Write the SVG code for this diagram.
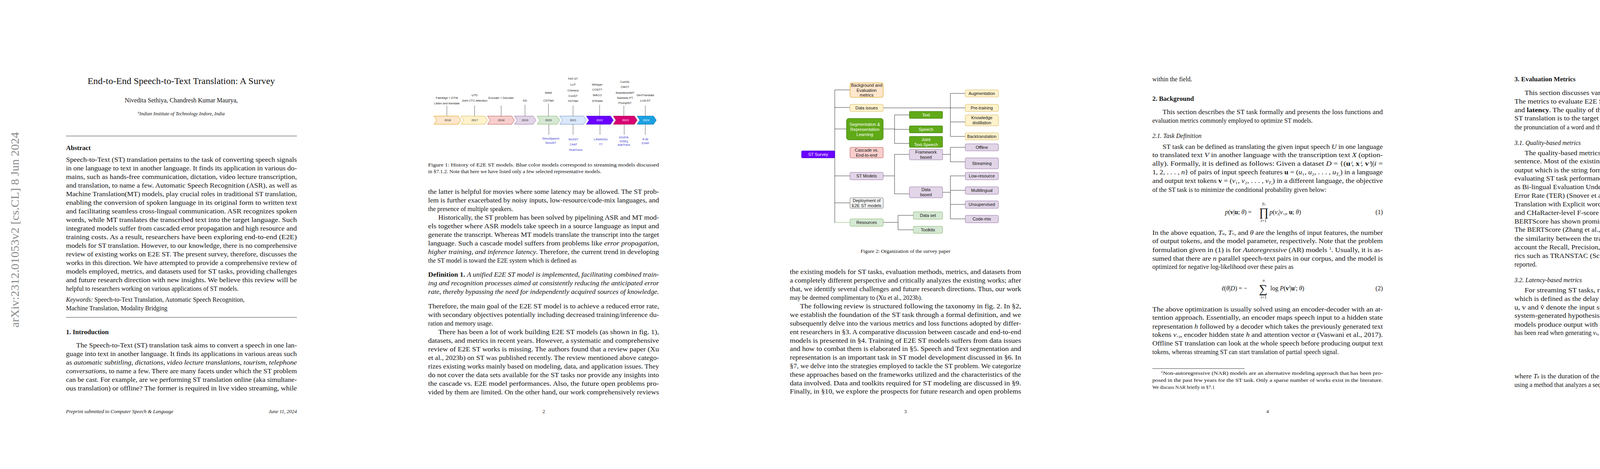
<svg xmlns="http://www.w3.org/2000/svg" width="4635" height="1200" viewBox="0 0 4635 1200">
<style>
.b{font-family:"Liberation Serif","Times New Roman",serif;font-size:16px;fill:#111}
.h{font-family:"Liberation Serif","Times New Roman",serif;font-size:17px;font-weight:bold;fill:#111}
.it{font-style:italic}
.bd{font-weight:bold}
.cap{font-family:"Liberation Serif","Times New Roman",serif;font-size:13.5px;fill:#111}
.fn{font-family:"Liberation Serif","Times New Roman",serif;font-size:12.5px;fill:#111}
.ft{font-family:"Liberation Serif","Times New Roman",serif;font-size:13px;fill:#111}
.tl{font-family:"Liberation Sans",Arial,sans-serif;font-size:7.5px;fill:#222;text-anchor:middle}
.tb{font-family:"Liberation Sans",Arial,sans-serif;font-size:7.5px;fill:#3838d0;text-anchor:middle}
.yr{font-family:"Liberation Sans",Arial,sans-serif;font-size:7.5px;text-anchor:middle}
.stem{stroke:#333;stroke-width:0.8;fill:none}
.n{font-family:"Liberation Sans",Arial,sans-serif;font-size:11px;text-anchor:middle;fill:#111}
.nw{font-family:"Liberation Sans",Arial,sans-serif;font-size:11px;text-anchor:middle;fill:#fff}
.c{stroke:#333;stroke-width:1;fill:none}
.or{fill:#ffe6cc;stroke:#d79b00}
.ye{fill:#fff2cc;stroke:#d6b656}
.gr{fill:#60a917;stroke:#2d7600}
.pu{fill:#e1d5e7;stroke:#9673a6}
.re{fill:#f8cecc;stroke:#b85450}
.lg{fill:#d5e8d4;stroke:#82b366}
.gy{fill:#f5f5f5;stroke:#666}
</style>
<rect width="4635" height="1200" fill="#fff"/>

<!-- PAGE 1 -->
<text transform="translate(48,838) rotate(-90)" font-family="Liberation Serif,serif" font-size="30" fill="#8a8a8a" textLength="500" lengthAdjust="spacingAndGlyphs">arXiv:2312.01053v2  [cs.CL]  8 Jun 2024</text>
<text x="464" y="215" text-anchor="middle" font-family="Liberation Serif,serif" font-size="24" fill="#111">End-to-End Speech-to-Text Translation: A Survey</text>
<text x="464" y="262" text-anchor="middle" class="b">Nivedita Sethiya, Chandresh Kumar Maurya,</text>
<text x="464" y="295" text-anchor="middle" class="fn it"><tspan font-size="8" dy="-5">a</tspan><tspan dy="5">Indian Institute of Technology Indore, India</tspan></text>
<line x1="169" y1="348" x2="760" y2="348" stroke="#333" stroke-width="1"/>
<text x="169" y="384" class="h">Abstract</text>
<g class="b">
<text x="169" y="414" textLength="591" lengthAdjust="spacingAndGlyphs">Speech-to-Text (ST) translation pertains to the task of converting speech signals</text>
<text x="169" y="436" textLength="591" lengthAdjust="spacingAndGlyphs">in one language to text in another language. It finds its application in various do-</text>
<text x="169" y="458" textLength="591" lengthAdjust="spacingAndGlyphs">mains, such as hands-free communication, dictation, video lecture transcription,</text>
<text x="169" y="480" textLength="591" lengthAdjust="spacingAndGlyphs">and translation, to name a few. Automatic Speech Recognition (ASR), as well as</text>
<text x="169" y="502" textLength="591" lengthAdjust="spacingAndGlyphs">Machine Translation(MT) models, play crucial roles in traditional ST translation,</text>
<text x="169" y="524" textLength="591" lengthAdjust="spacingAndGlyphs">enabling the conversion of spoken language in its original form to written text</text>
<text x="169" y="546" textLength="591" lengthAdjust="spacingAndGlyphs">and facilitating seamless cross-lingual communication. ASR recognizes spoken</text>
<text x="169" y="568" textLength="591" lengthAdjust="spacingAndGlyphs">words, while MT translates the transcribed text into the target language. Such</text>
<text x="169" y="590" textLength="591" lengthAdjust="spacingAndGlyphs">integrated models suffer from cascaded error propagation and high resource and</text>
<text x="169" y="612" textLength="591" lengthAdjust="spacingAndGlyphs">training costs. As a result, researchers have been exploring end-to-end (E2E)</text>
<text x="169" y="634" textLength="591" lengthAdjust="spacingAndGlyphs">models for ST translation. However, to our knowledge, there is no comprehensive</text>
<text x="169" y="656" textLength="591" lengthAdjust="spacingAndGlyphs">review of existing works on E2E ST. The present survey, therefore, discusses the</text>
<text x="169" y="678" textLength="591" lengthAdjust="spacingAndGlyphs">works in this direction. We have attempted to provide a comprehensive review of</text>
<text x="169" y="700" textLength="591" lengthAdjust="spacingAndGlyphs">models employed, metrics, and datasets used for ST tasks, providing challenges</text>
<text x="169" y="722" textLength="591" lengthAdjust="spacingAndGlyphs">and future research direction with new insights. We believe this review will be</text>
<text x="169" y="744">helpful to researchers working on various applications of ST models.</text>
<text x="169" y="772"><tspan class="it">Keywords:</tspan>  Speech-to-Text Translation, Automatic Speech Recognition,</text>
<text x="169" y="794">Machine Translation, Modality Bridging</text>
</g>
<line x1="169" y1="812" x2="760" y2="812" stroke="#333" stroke-width="1"/>
<text x="169" y="855" class="h">1. Introduction</text>
<g class="b">
<text x="195" y="889" textLength="565" lengthAdjust="spacingAndGlyphs">The Speech-to-Text (ST) translation task aims to convert a speech in one lan-</text>
<text x="169" y="911" textLength="591" lengthAdjust="spacingAndGlyphs">guage into text in another language. It finds its applications in various areas such</text>
<text x="169" y="933" textLength="591" lengthAdjust="spacingAndGlyphs">as <tspan class="it">automatic subtitling, dictations, video lecture translations, tourism, telephone</tspan></text>
<text x="169" y="955" textLength="591" lengthAdjust="spacingAndGlyphs"><tspan class="it">conversations</tspan>, to name a few. There are many facets under which the ST problem</text>
<text x="169" y="977" textLength="591" lengthAdjust="spacingAndGlyphs">can be cast. For example, are we performing ST translation online (aka simultane-</text>
<text x="169" y="999" textLength="591" lengthAdjust="spacingAndGlyphs">ous translation) or offline? The former is required in live video streaming, while</text>
</g>
<text x="169" y="1057" class="ft it">Preprint submitted to Computer Speech &amp; Language</text>
<text x="760" y="1057" class="ft it" text-anchor="end">June 11, 2024</text>

<!-- PAGE 2 : timeline -->
<g id="timeline">
<g class="stem">
<path d="M1144 297V270M1215 297V270M1283 297V270M1344 297V268M1404 297V265M1467 297V270M1535 297V268M1597 297V270M1652 297V270"/>
<path d="M1405 318V345M1467 318V345M1536 318V345M1598 318V345M1652 318V345"/>
</g>
<g stroke-width="1">
<polygon points="1111,297 1173,297 1180,307.5 1173,318 1111,318 1118,307.5" fill="#ffe6cc" stroke="#d79b00"/>
<polygon points="1180,297 1241,297 1248,307.5 1241,318 1180,318 1187,307.5" fill="#fff2cc" stroke="#d6b656"/>
<polygon points="1248,297 1310,297 1317,307.5 1310,318 1248,318 1255,307.5" fill="#f8cecc" stroke="#b85450"/>
<polygon points="1317,297 1365,297 1372,307.5 1365,318 1317,318 1324,307.5" fill="#e1d5e7" stroke="#9673a6"/>
<polygon points="1375,297 1426,297 1433,307.5 1426,318 1375,318 1382,307.5" fill="#d5e8d4" stroke="#82b366"/>
<polygon points="1433,297 1494,297 1501,307.5 1494,318 1433,318 1440,307.5" fill="#dae8fc" stroke="#6c8ebf"/>
<polygon points="1501,297 1563,297 1570,307.5 1563,318 1501,318 1508,307.5" fill="#6a00ff" stroke="#3700cc"/>
<polygon points="1570,297 1624,297 1631,307.5 1624,318 1570,318 1577,307.5" fill="#d80073" stroke="#a50040"/>
<polygon points="1631,297 1673,297 1680,307.5 1673,318 1631,318 1638,307.5" fill="#1ba1e2" stroke="#006eaf"/>
</g>
<text class="yr" x="1146" y="310" fill="#222">2016</text>
<text class="yr" x="1215" y="310" fill="#222">2017</text>
<text class="yr" x="1283" y="310" fill="#222">2018</text>
<text class="yr" x="1344" y="310" fill="#222">2019</text>
<text class="yr" x="1404" y="310" fill="#222">2020</text>
<text class="yr" x="1467" y="310" fill="#222">2021</text>
<text class="yr" x="1535" y="310" fill="#fff">2022</text>
<text class="yr" x="1601" y="310" fill="#fff">2023</text>
<text class="yr" x="1654" y="310" fill="#fff">2024</text>
<text class="tl" x="1144" y="253">FastAlign + DTW</text>
<text class="tl" x="1144" y="267">Listen and translate</text>
<text class="tl" x="1215" y="246">UTD</text>
<text class="tl" x="1215" y="260">Joint CTC-Attention</text>
<text class="tl" x="1283" y="253">Encoder + Decoder</text>
<text class="tl" x="1344" y="260">KD</text>
<text class="tl" x="1404" y="240">MAM</text>
<text class="tl" x="1404" y="260">CSTNet</text>
<text class="tl" x="1467" y="204">FAT-ST</text>
<text class="tl" x="1467" y="219">LUT</text>
<text class="tl" x="1467" y="234">Chimera</text>
<text class="tl" x="1467" y="248">ConST</text>
<text class="tl" x="1467" y="261">XSTNet</text>
<text class="tl" x="1529" y="219" fill="#7a3d8a">Whisper</text>
<text class="tl" x="1529" y="232">COSTT</text>
<text class="tl" x="1529" y="246">WACO</text>
<text class="tl" x="1529" y="261">STEMM</text>
<text class="tl" x="1600" y="212">ComSL</text>
<text class="tl" x="1600" y="225">CMOT</text>
<text class="tl" x="1600" y="240">Seamless4MT</text>
<text class="tl" x="1600" y="253">Siamese-PT</text>
<text class="tl" x="1600" y="266">PromptST</text>
<text class="tl" x="1652" y="246">GenTranslate</text>
<text class="tl" x="1652" y="260">LLM-ST</text>
<text class="tb" x="1410" y="357">SimulSpeech</text>
<text class="tb" x="1410" y="368">SimulST</text>
<text class="tb" x="1468" y="359">MoSST</text>
<text class="tb" x="1468" y="372">CAAT</text>
<text class="tb" x="1474" y="386">RealTrans</text>
<text class="tb" x="1538" y="359">LAMASSU</text>
<text class="tb" x="1538" y="372">TT</text>
<text class="tb" x="1597" y="354">EDATA</text>
<text class="tb" x="1597" y="364">DiSEg</text>
<text class="tb" x="1597" y="373">AdaTrans</text>
<text class="tb" x="1652" y="359">R-BI</text>
<text class="tb" x="1652" y="369">STAR</text>
</g>
<text x="1096" y="426" class="cap" textLength="591" lengthAdjust="spacingAndGlyphs">Figure 1: History of E2E ST models. Blue color models correspond to streaming models discussed</text>
<text x="1096" y="443" class="cap">in §7.1.2. Note that here we have listed only a few selected representative models.</text>
<g class="b">
<text x="1096" y="496" textLength="591" lengthAdjust="spacingAndGlyphs">the latter is helpful for movies where some latency may be allowed. The ST prob-</text>
<text x="1096" y="518" textLength="591" lengthAdjust="spacingAndGlyphs">lem is further exacerbated by noisy inputs, low-resource/code-mix languages, and</text>
<text x="1096" y="540">the presence of multiple speakers.</text>
<text x="1122" y="562" textLength="565" lengthAdjust="spacingAndGlyphs">Historically, the ST problem has been solved by pipelining ASR and MT mod-</text>
<text x="1096" y="584" textLength="591" lengthAdjust="spacingAndGlyphs">els together where ASR models take speech in a source language as input and</text>
<text x="1096" y="606" textLength="591" lengthAdjust="spacingAndGlyphs">generate the transcript. Whereas MT models translate the transcript into the target</text>
<text x="1096" y="628" textLength="591" lengthAdjust="spacingAndGlyphs">language. Such a cascade model suffers from problems like <tspan class="it">error propagation,</tspan></text>
<text x="1096" y="650" textLength="591" lengthAdjust="spacingAndGlyphs"><tspan class="it">higher training, and inference latency</tspan>. Therefore, the current trend in developing</text>
<text x="1096" y="672">the ST model is toward the E2E system which is defined as</text>
<text x="1096" y="708" textLength="591" lengthAdjust="spacingAndGlyphs"><tspan class="bd">Definition 1.</tspan> <tspan class="it">A unified E2E ST model is implemented, facilitating combined train-</tspan></text>
<text x="1096" y="730" textLength="591" lengthAdjust="spacingAndGlyphs" class="it">ing and recognition processes aimed at consistently reducing the anticipated error</text>
<text x="1096" y="752" textLength="591" lengthAdjust="spacingAndGlyphs" class="it">rate, thereby bypassing the need for independently acquired sources of knowledge.</text>
<text x="1096" y="789" textLength="591" lengthAdjust="spacingAndGlyphs">Therefore, the main goal of the E2E ST model is to achieve a reduced error rate,</text>
<text x="1096" y="811" textLength="591" lengthAdjust="spacingAndGlyphs">with secondary objectives potentially including decreased training/inference du-</text>
<text x="1096" y="833">ration and memory usage.</text>
<text x="1122" y="855" textLength="565" lengthAdjust="spacingAndGlyphs">There has been a lot of work building E2E ST models (as shown in fig. 1),</text>
<text x="1096" y="877" textLength="591" lengthAdjust="spacingAndGlyphs">datasets, and metrics in recent years. However, a systematic and comprehensive</text>
<text x="1096" y="899" textLength="591" lengthAdjust="spacingAndGlyphs">review of E2E ST works is missing. The authors found that a review paper (Xu</text>
<text x="1096" y="921" textLength="591" lengthAdjust="spacingAndGlyphs">et al., 2023b) on ST was published recently. The review mentioned above catego-</text>
<text x="1096" y="943" textLength="591" lengthAdjust="spacingAndGlyphs">rizes existing works mainly based on modeling, data, and application issues. They</text>
<text x="1096" y="965" textLength="591" lengthAdjust="spacingAndGlyphs">do not cover the data sets available for the ST tasks nor provide any insights into</text>
<text x="1096" y="987" textLength="591" lengthAdjust="spacingAndGlyphs">the cascade vs. E2E model performances. Also, the future open problems pro-</text>
<text x="1096" y="1009" textLength="591" lengthAdjust="spacingAndGlyphs">vided by them are limited. On the other hand, our work comprehensively reviews</text>
</g>
<text x="1392" y="1057" class="ft" text-anchor="middle">2</text>

<!-- PAGE 3 : organization diagram -->
<g id="connectors">
<path class="c" d="M2137 230V570M2137 230H2176M2137 275H2176M2137 330H2167M2137 395H2137M2137 450H2176M2137 519H2176"/>
<path d="M2137 569H2176" stroke="#82b366" stroke-width="1"/>
<path class="c" d="M2261 276H2471M2433 239V349M2433 239H2471M2433 312H2471M2433 349H2471"/>
<path class="c" d="M2261 330H2290M2290 294V367M2290 294H2328M2290 331H2328M2290 367H2328"/>
<path class="c" d="M2261 450H2290M2290 395V496M2290 395H2328M2290 496H2328"/>
<path class="c" d="M2413 395H2433M2433 377V414M2433 377H2471M2433 414H2471"/>
<path class="c" d="M2413 492H2433M2433 450V560M2433 450H2471M2433 487H2471M2433 523H2471M2433 560H2471"/>
<path class="c" d="M2261 569H2299M2299 551V588M2299 551H2338M2299 588H2338"/>
</g>
<g id="st-survey"><rect x="2052" y="386" width="85" height="18" rx="2" fill="#6a00ff" stroke="#3700cc"/><text class="nw" x="2094.5" y="399">ST Survey</text></g>
<g id="background"><rect class="or" x="2176" y="212" width="85" height="37" rx="4"/><text class="n" x="2218.5" y="222">Background and</text><text class="n" x="2218.5" y="235">Evaluation</text><text class="n" x="2218.5" y="247">metrics</text></g>
<g id="data-issues"><rect class="ye" x="2176" y="267" width="85" height="18" rx="3"/><text class="n" x="2218.5" y="280">Data issues</text></g>
<g id="segmentation"><rect class="gr" x="2167" y="303" width="94" height="55" rx="6"/><text class="nw" x="2214" y="322">Segmentation &amp;</text><text class="nw" x="2214" y="335">Representation</text><text class="nw" x="2214" y="348">Learning</text></g>
<g id="cascade"><rect class="re" x="2176" y="377" width="85" height="27" rx="3"/><text class="n" x="2218.5" y="388">Cascade vs.</text><text class="n" x="2218.5" y="401">End-to-end</text></g>
<g id="st-models"><rect class="pu" x="2176" y="441" width="85" height="19" rx="3"/><text class="n" x="2218.5" y="454">ST Models</text></g>
<g id="deployment"><rect class="gy" x="2176" y="506" width="85" height="27" rx="3"/><text class="n" x="2218.5" y="517">Deployment of</text><text class="n" x="2218.5" y="530">E2E ST models</text></g>
<g id="resources"><rect class="lg" x="2176" y="560" width="85" height="19" rx="3"/><text class="n" x="2218.5" y="573">Resources</text></g>
<g id="text"><rect class="gr" x="2328" y="285" width="85" height="18" rx="2"/><text class="nw" x="2370.5" y="298">Text</text></g>
<g id="speech"><rect class="gr" x="2328" y="322" width="85" height="18" rx="2"/><text class="nw" x="2370.5" y="335">Speech</text></g>
<g id="joint"><rect class="gr" x="2328" y="349" width="85" height="28" rx="2"/><text class="nw" x="2370.5" y="361">Joint</text><text class="nw" x="2370.5" y="374">Text-Speech</text></g>
<g id="framework"><rect class="pu" x="2328" y="382" width="85" height="27" rx="3"/><text class="n" x="2370.5" y="393">Framework</text><text class="n" x="2370.5" y="406">based</text></g>
<g id="data-based"><rect class="pu" x="2328" y="478" width="85" height="28" rx="3"/><text class="n" x="2370.5" y="489">Data</text><text class="n" x="2370.5" y="502">based</text></g>
<g id="data-set"><rect class="lg" x="2338" y="542" width="75" height="19" rx="3"/><text class="n" x="2375.5" y="555">Data set</text></g>
<g id="toolkits"><rect class="lg" x="2338" y="579" width="75" height="18" rx="3"/><text class="n" x="2375.5" y="592">Toolkits</text></g>
<g id="augmentation"><rect class="ye" x="2471" y="230" width="85" height="18" rx="3"/><text class="n" x="2513.5" y="243">Augmentation</text></g>
<g id="pretraining"><rect class="ye" x="2471" y="267" width="85" height="18" rx="3"/><text class="n" x="2513.5" y="280">Pre-training</text></g>
<g id="kd"><rect class="ye" x="2471" y="294" width="85" height="28" rx="3"/><text class="n" x="2513.5" y="305">Knowledge</text><text class="n" x="2513.5" y="318">distillation</text></g>
<g id="backtranslation"><rect class="ye" x="2471" y="340" width="85" height="18" rx="3"/><text class="n" x="2513.5" y="353">Backtranslation</text></g>
<g id="offline"><rect class="pu" x="2471" y="368" width="85" height="18" rx="3"/><text class="n" x="2513.5" y="381">Offline</text></g>
<g id="streaming"><rect class="pu" x="2471" y="404" width="85" height="28" rx="3"/><text class="n" x="2513.5" y="422">Streaming</text></g>
<g id="low-resource"><rect class="pu" x="2471" y="441" width="85" height="19" rx="3"/><text class="n" x="2513.5" y="454">Low-resource</text></g>
<g id="multilingual"><rect class="pu" x="2471" y="478" width="85" height="19" rx="3"/><text class="n" x="2513.5" y="491">Multilingual</text></g>
<g id="unsupervised"><rect class="pu" x="2471" y="514" width="85" height="19" rx="3"/><text class="n" x="2513.5" y="527">Unsupervised</text></g>
<g id="code-mix"><rect class="pu" x="2471" y="551" width="85" height="19" rx="3"/><text class="n" x="2513.5" y="564">Code-mix</text></g>
<text x="2318" y="647" class="cap" text-anchor="middle">Figure 2: Organization of the survey paper</text>
<g class="b">
<text x="2022" y="701" textLength="592" lengthAdjust="spacingAndGlyphs">the existing models for ST tasks, evaluation methods, metrics, and datasets from</text>
<text x="2022" y="723" textLength="592" lengthAdjust="spacingAndGlyphs">a completely different perspective and critically analyzes the existing works; after</text>
<text x="2022" y="745" textLength="592" lengthAdjust="spacingAndGlyphs">that, we identify several challenges and future research directions. Thus, our work</text>
<text x="2022" y="767">may be deemed complimentary to (Xu et al., 2023b).</text>
<text x="2048" y="789" textLength="566" lengthAdjust="spacingAndGlyphs">The following review is structured following the taxonomy in fig. 2. In §2,</text>
<text x="2022" y="811" textLength="592" lengthAdjust="spacingAndGlyphs">we establish the foundation of the ST task through a formal definition, and we</text>
<text x="2022" y="833" textLength="592" lengthAdjust="spacingAndGlyphs">subsequently delve into the various metrics and loss functions adopted by differ-</text>
<text x="2022" y="855" textLength="592" lengthAdjust="spacingAndGlyphs">ent researchers in §3. A comparative discussion between cascade and end-to-end</text>
<text x="2022" y="877" textLength="592" lengthAdjust="spacingAndGlyphs">models is presented in §4. Training of E2E ST models suffers from data issues</text>
<text x="2022" y="898" textLength="592" lengthAdjust="spacingAndGlyphs">and how to combat them is elaborated in §5. Speech and Text segmentation and</text>
<text x="2022" y="920" textLength="592" lengthAdjust="spacingAndGlyphs">representation is an important task in ST model development discussed in §6. In</text>
<text x="2022" y="942" textLength="592" lengthAdjust="spacingAndGlyphs">§7, we delve into the strategies employed to tackle the ST problem. We categorize</text>
<text x="2022" y="964" textLength="592" lengthAdjust="spacingAndGlyphs">these approaches based on the frameworks utilized and the characteristics of the</text>
<text x="2022" y="986" textLength="592" lengthAdjust="spacingAndGlyphs">data involved. Data and toolkits required for ST modeling are discussed in §9.</text>
<text x="2022" y="1007" textLength="592" lengthAdjust="spacingAndGlyphs">Finally, in §10, we explore the prospects for future research and open problems</text>
</g>
<text x="2318" y="1057" class="ft" text-anchor="middle">3</text>

<!-- PAGE 4 -->
<g class="b">
<text x="2950" y="208">within the field.</text>
<text x="2950" y="258" class="h">2. Background</text>
<text x="2976" y="292" textLength="564" lengthAdjust="spacingAndGlyphs">This section describes the ST task formally and presents the loss functions and</text>
<text x="2950" y="314">evaluation metrics commonly employed to optimize ST models.</text>
<text x="2950" y="353" class="it">2.1. Task Definition</text>
<text x="2976" y="381" textLength="564" lengthAdjust="spacingAndGlyphs">ST task can be defined as translating the given input speech <tspan class="it">U</tspan> in one language</text>
<text x="2950" y="402" textLength="590" lengthAdjust="spacingAndGlyphs">to translated text <tspan class="it">V</tspan> in another language with the transcription text <tspan class="it">X</tspan> (option-</text>
<text x="2950" y="424" textLength="590" lengthAdjust="spacingAndGlyphs">ally). Formally, it is defined as follows: Given a dataset <tspan class="it">D</tspan> = {(<tspan class="bd">u</tspan><tspan class="it">ⁱ</tspan>, <tspan class="bd">x</tspan><tspan class="it">ⁱ</tspan>, <tspan class="bd">v</tspan><tspan class="it">ⁱ</tspan>)|<tspan class="it">i</tspan> =</text>
<text x="2950" y="446" textLength="590" lengthAdjust="spacingAndGlyphs">1, 2, . . . , <tspan class="it">n</tspan>} of pairs of input speech features <tspan class="bd">u</tspan> = (<tspan class="it">u</tspan>₁, <tspan class="it">u</tspan>₂, . . . , <tspan class="it">u</tspan><tspan class="it" font-size="10" dy="3">T</tspan><tspan font-size="7" class="it" dy="2">u</tspan><tspan dy="-5">) in a language</tspan></text>
<text x="2950" y="468" textLength="590" lengthAdjust="spacingAndGlyphs">and output text tokens <tspan class="bd">v</tspan> = (<tspan class="it">v</tspan>₁, <tspan class="it">v</tspan>₂, . . . , <tspan class="it">v</tspan><tspan class="it" font-size="10" dy="3">T</tspan><tspan font-size="7" class="it" dy="2">v</tspan><tspan dy="-5">) in a different language, the objective</tspan></text>
<text x="2950" y="491">of the ST task is to minimize the conditional probability given below:</text>
<text x="3136" y="548"><tspan class="it">p</tspan>(<tspan class="bd">v</tspan>|<tspan class="bd">u</tspan>; <tspan class="it">θ</tspan>) =</text>
<text x="3223" y="553" font-size="30">∏</text>
<text x="3235" y="526" font-size="11" class="it" text-anchor="middle">T<tspan font-size="8">v</tspan></text>
<text x="3235" y="568" font-size="11" text-anchor="middle"><tspan class="it">t</tspan>=1</text>
<text x="3250" y="548"><tspan class="it">p</tspan>(<tspan class="it">v<tspan font-size="10" dy="3">t</tspan></tspan><tspan dy="-3">|</tspan><tspan class="it">v</tspan><tspan font-size="10" dy="3">&lt;<tspan class="it">t</tspan></tspan><tspan dy="-3">, </tspan><tspan class="bd">u</tspan>; <tspan class="it">θ</tspan>)</text>
<text x="3540" y="548" text-anchor="end">(1)</text>
<text x="2950" y="601" textLength="590" lengthAdjust="spacingAndGlyphs">In the above equation, <tspan class="it">T<tspan font-size="10">u</tspan></tspan>, <tspan class="it">T<tspan font-size="10">v</tspan></tspan>, and <tspan class="it">θ</tspan> are the lengths of input features, the number</text>
<text x="2950" y="622" textLength="590" lengthAdjust="spacingAndGlyphs">of output tokens, and the model parameter, respectively. Note that the problem</text>
<text x="2950" y="645" textLength="590" lengthAdjust="spacingAndGlyphs">formulation given in (1) is for <tspan class="it">Autoregressive</tspan> (AR) models <tspan font-size="10" dy="-6">1</tspan><tspan dy="6">. Usually, it is as-</tspan></text>
<text x="2950" y="667" textLength="590" lengthAdjust="spacingAndGlyphs">sumed that there are <tspan class="it">n</tspan> parallel speech-text pairs in our corpus, and the model is</text>
<text x="2950" y="688">optimized for negative log-likelihood over these pairs as</text>
<text x="3127" y="743"><tspan class="it">ℓ</tspan>(<tspan class="it">θ</tspan>|<tspan class="it">D</tspan>) = −</text>
<text x="3223" y="749" font-size="30">∑</text>
<text x="3235" y="721" font-size="11" class="it" text-anchor="middle">n</text>
<text x="3235" y="764" font-size="11" text-anchor="middle"><tspan class="it">i</tspan>=1</text>
<text x="3252" y="743">log <tspan class="it">P</tspan>(<tspan class="bd">v</tspan><tspan font-size="10" dy="-6" class="it">i</tspan><tspan dy="6">|</tspan><tspan class="bd">u</tspan><tspan font-size="10" dy="-6" class="it">i</tspan><tspan dy="6">; </tspan><tspan class="it">θ</tspan>)</text>
<text x="3540" y="743" text-anchor="end">(2)</text>
<text x="2950" y="797" textLength="590" lengthAdjust="spacingAndGlyphs">The above optimization is usually solved using an encoder-decoder with an at-</text>
<text x="2950" y="818" textLength="590" lengthAdjust="spacingAndGlyphs">tention approach. Essentially, an encoder maps speech input to a hidden state</text>
<text x="2950" y="841" textLength="590" lengthAdjust="spacingAndGlyphs">representation <tspan class="it">h</tspan> followed by a decoder which takes the previously generated text</text>
<text x="2950" y="862" textLength="590" lengthAdjust="spacingAndGlyphs">tokens <tspan class="it">v</tspan><tspan font-size="10" dy="3">&lt;<tspan class="it">t</tspan></tspan><tspan dy="-3">, encoder hidden state </tspan><tspan class="it">h</tspan> and attention vector <tspan class="it">α</tspan> (Vaswani et al., 2017).</text>
<text x="2950" y="884" textLength="590" lengthAdjust="spacingAndGlyphs">Offline ST translation can look at the whole speech before producing output text</text>
<text x="2950" y="906">tokens, whereas streaming ST can start translation of partial speech signal.</text>
</g>
<line x1="2950" y1="943" x2="3186" y2="943" stroke="#333" stroke-width="1"/>
<g class="fn">
<text x="2972" y="959" textLength="568" lengthAdjust="spacingAndGlyphs"><tspan font-size="8" dy="-4">1</tspan><tspan dy="4">Non-autoregressive (NAR) models are an alternative modeling approach that has been pro-</tspan></text>
<text x="2950" y="977" textLength="590" lengthAdjust="spacingAndGlyphs">posed in the past few years for the ST task. Only a sparse number of works exist in the literature.</text>
<text x="2950" y="995">We discuss NAR briefly in §7.1</text>
</g>
<text x="3245" y="1057" class="ft" text-anchor="middle">4</text>

<!-- PAGE 5 -->
<g class="b">
<text x="3877" y="208" class="h">3. Evaluation Metrics</text>
<text x="3903" y="243" textLength="565" lengthAdjust="spacingAndGlyphs">This section discusses various metrics used to evaluate the E2E ST models.</text>
<text x="3877" y="265" textLength="591" lengthAdjust="spacingAndGlyphs">The metrics to evaluate E2E ST models are categorized into two types: <tspan class="bd">quality</tspan></text>
<text x="3877" y="287" textLength="591" lengthAdjust="spacingAndGlyphs">and <tspan class="bd">latency</tspan>. The quality of the E2E ST models is the measure of how close the</text>
<text x="3877" y="308" textLength="591" lengthAdjust="spacingAndGlyphs">ST translation is to the target sentence. The latency is the time elapsed between</text>
<text x="3877" y="331">the pronunciation of a word and the generation of its textual translation.</text>
<text x="3877" y="371" class="it">3.1.  Quality-based metrics</text>
<text x="3903" y="397" textLength="565" lengthAdjust="spacingAndGlyphs">The quality-based metrics measure how close the translation is to the target</text>
<text x="3877" y="418" textLength="591" lengthAdjust="spacingAndGlyphs">sentence. Most of the existing literature evaluates these scores on <tspan class="it">detokenized</tspan></text>
<text x="3877" y="441" textLength="591" lengthAdjust="spacingAndGlyphs">output which is the string formed by combining the tokens. Standard metrics for</text>
<text x="3877" y="462" textLength="591" lengthAdjust="spacingAndGlyphs">evaluating ST task performance are commonly used MT evaluation metrics such</text>
<text x="3877" y="484" textLength="591" lengthAdjust="spacingAndGlyphs">as Bi-lingual Evaluation Understudy (BLEU) (Papineni et al., 2002), Translation</text>
<text x="3877" y="506" textLength="591" lengthAdjust="spacingAndGlyphs">Error Rate (TER) (Snover et al., 2006) via sacreBLEU, Metric for Evaluation of</text>
<text x="3877" y="528" textLength="591" lengthAdjust="spacingAndGlyphs">Translation with Explicit word Ordering (METEOR) (Banerjee and Lavie, 2005),</text>
<text x="3877" y="550" textLength="591" lengthAdjust="spacingAndGlyphs">and CHaRacter-level F-score (CHRF), and CHRF++ (Popović, 2015). Recently</text>
<text x="3877" y="572" textLength="591" lengthAdjust="spacingAndGlyphs">BERTScore has shown promising results on comparing with human evaluations.</text>
<text x="3877" y="593" textLength="591" lengthAdjust="spacingAndGlyphs">The BERTScore (Zhang et al., 2019) is an automatic evaluation metric that scores</text>
<text x="3877" y="616" textLength="591" lengthAdjust="spacingAndGlyphs">the similarity between the translated text and the referenced text. It takes into</text>
<text x="3877" y="638" textLength="591" lengthAdjust="spacingAndGlyphs">account the Recall, Precision, and Fscore. There are a few other evaluation met-</text>
<text x="3877" y="660" textLength="591" lengthAdjust="spacingAndGlyphs">rics such as TRANSTAC (Schlenoff et al., 2009) and which are less frequently</text>
<text x="3877" y="682">reported.</text>
<text x="3877" y="722" class="it">3.2.  Latency-based metrics</text>
<text x="3903" y="748" textLength="565" lengthAdjust="spacingAndGlyphs">For streaming ST tasks, researchers report a metric for measuring <tspan class="it">latency</tspan>,</text>
<text x="3877" y="770" textLength="591" lengthAdjust="spacingAndGlyphs">which is defined as the delay incurred in starting to produce the translation. Let</text>
<text x="3877" y="792" textLength="591" lengthAdjust="spacingAndGlyphs">u, v and v̂ denote the input speech sequence, ground truth text sequence, and</text>
<text x="3877" y="813" textLength="591" lengthAdjust="spacingAndGlyphs">system-generated hypothesis sequence, respectively. In the streaming ST task,</text>
<text x="3877" y="836" textLength="591" lengthAdjust="spacingAndGlyphs">models produce output with partial input. Suppose u<tspan font-size="10" dy="3">1:<tspan class="it">t</tspan></tspan><tspan dy="-3"> = {(</tspan><tspan class="it">u</tspan>₁, . . . , <tspan class="it">u<tspan font-size="10">t</tspan></tspan>), <tspan class="it">t</tspan> &lt; <tspan class="it">T<tspan font-size="10">u</tspan></tspan>}</text>
<text x="3877" y="857">has been read when generating <tspan class="it">v<tspan font-size="10">s</tspan></tspan>, the delay in <tspan class="it">v<tspan font-size="10">s</tspan></tspan> is defined as (Ma et al., 2020a)</text>
<text x="4128" y="913"><tspan class="it">d<tspan font-size="10">s</tspan></tspan> =</text>
<text x="4171" y="919" font-size="30">∑</text>
<text x="4182" y="891" font-size="11" class="it" text-anchor="middle">t</text>
<text x="4182" y="936" font-size="11" text-anchor="middle"><tspan class="it">k</tspan>=1</text>
<text x="4196" y="913" class="it">T<tspan font-size="10">k</tspan></text>
<text x="4468" y="913" text-anchor="end">(3)</text>
<text x="3877" y="968" textLength="591" lengthAdjust="spacingAndGlyphs">where <tspan class="it">T<tspan font-size="10">k</tspan></tspan> is the duration of the speech frame <tspan class="it">u<tspan font-size="10">k</tspan></tspan>. The latency metrics are calculated</text>
<text x="3877" y="990">using a method that analyzes a sequence of time delays [<tspan class="it">d</tspan>₁, . . . , <tspan class="it">d<tspan font-size="10">T<tspan font-size="7">v</tspan></tspan></tspan>].</text>
</g>
<text x="4172" y="1057" class="ft" text-anchor="middle">5</text>
</svg>
